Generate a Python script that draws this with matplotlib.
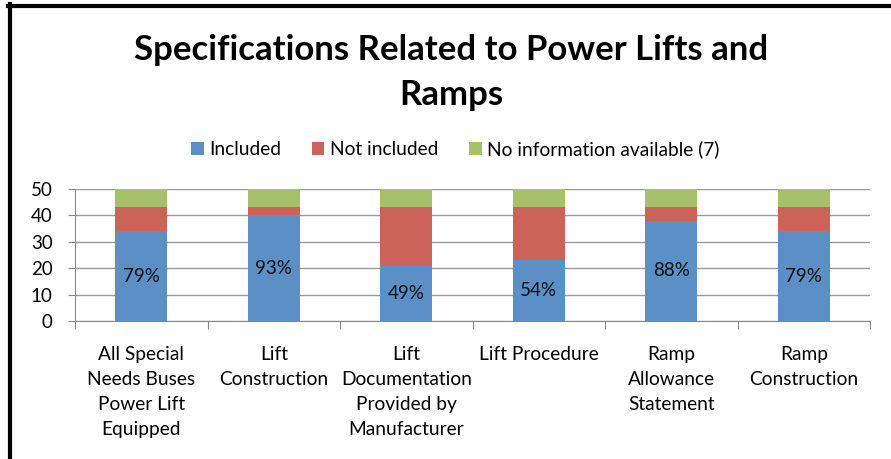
import matplotlib
matplotlib.use("Agg")
import matplotlib.pyplot as plt
from matplotlib.lines import Line2D
import numpy as np

categories = ["All Special\nNeeds Buses\nPower Lift\nEquipped", "Lift\nConstruction",
              "Lift\nDocumentation\nProvided by\nManufacturer", "Lift Procedure",
              "Ramp\nAllowance\nStatement", "Ramp\nConstruction"]
included = [34, 40, 21, 23, 38, 34]
not_included = [9, 3, 22, 20, 5, 9]
no_info = [7, 7, 7, 7, 7, 7]
pct_labels = ["79%", "93%", "49%", "54%", "88%", "79%"]
yticks = [0, 10, 20, 30, 40, 50]

plt.rcParams['font.family'] = ['Lato', 'DejaVu Sans']

W, H = 891, 459
fig = plt.figure(figsize=(W/100, H/100), dpi=100)
fig.patch.set_facecolor("white")

# frame lines (top and left)
fig.add_artist(Line2D([10/W, 10/W], [0, 1 - 4/H], transform=fig.transFigure, color="black", lw=3))
fig.add_artist(Line2D([8/W, 1], [1 - 6/H, 1 - 6/H], transform=fig.transFigure, color="black", lw=3))

ax = fig.add_axes([75/W, 1 - 321/H, (870-75)/W, (321-189)/H])
x = np.arange(len(categories))
bw = 0.39
c1, c2, c3 = "#5b8fc6", "#cc6359", "#a7c16a"
ax.bar(x, included, bw, color=c1, label="Included", zorder=3)
bottom2 = np.array(included)
ax.bar(x, not_included, bw, bottom=bottom2, color=c2, label="Not included", zorder=3)
bottom3 = bottom2 + np.array(not_included)
ax.bar(x, no_info, bw, bottom=bottom3, color=c3, label="No information available (7)", zorder=3)

for xi, v, lab in zip(x, included, pct_labels):
    ax.text(xi, v/2, lab, ha="center", va="center", fontsize=13.5, color="#111111", zorder=4)

ax.set_xlim(-0.5, len(categories) - 0.5)
ax.set_ylim(0, 50)
ax.set_yticks(yticks)
ax.tick_params(axis="y", length=5, color="#888888", labelsize=13.5, pad=11)
ax.yaxis.grid(True, color="#999999", lw=1, zorder=0)
ax.set_axisbelow(True)
for s in ["top", "right"]:
    ax.spines[s].set_visible(False)
ax.spines["left"].set_color("#888888")
ax.spines["bottom"].set_color("#888888")

ax.set_xticks(np.arange(len(categories) + 1) - 0.5, minor=False)
ax.set_xticklabels([])
ax.tick_params(axis="x", length=6, color="#888888", direction="out")
ax.set_xticks(x, minor=True)
ax.set_xticklabels(categories, minor=True, fontsize=13.8, linespacing=1.57, va="top")
ax.tick_params(axis="x", which="minor", length=0, pad=18)

fig.text(0.5 + 6/W, 1 - 50/H, "Specifications Related to Power Lifts and", ha="center", va="center",
         fontsize=25, fontweight="bold")
fig.text(0.5 + 6/W, 1 - 95/H, "Ramps", ha="center", va="center", fontsize=25, fontweight="bold")

fig.legend(loc="center", bbox_to_anchor=(0.5 + 10/W, 1 - 149/H), ncol=3, frameon=False,
           fontsize=13.8, handlelength=0.65, handleheight=0.65, handletextpad=0.3, columnspacing=1.6)

fig.savefig("out.png", dpi=100)
